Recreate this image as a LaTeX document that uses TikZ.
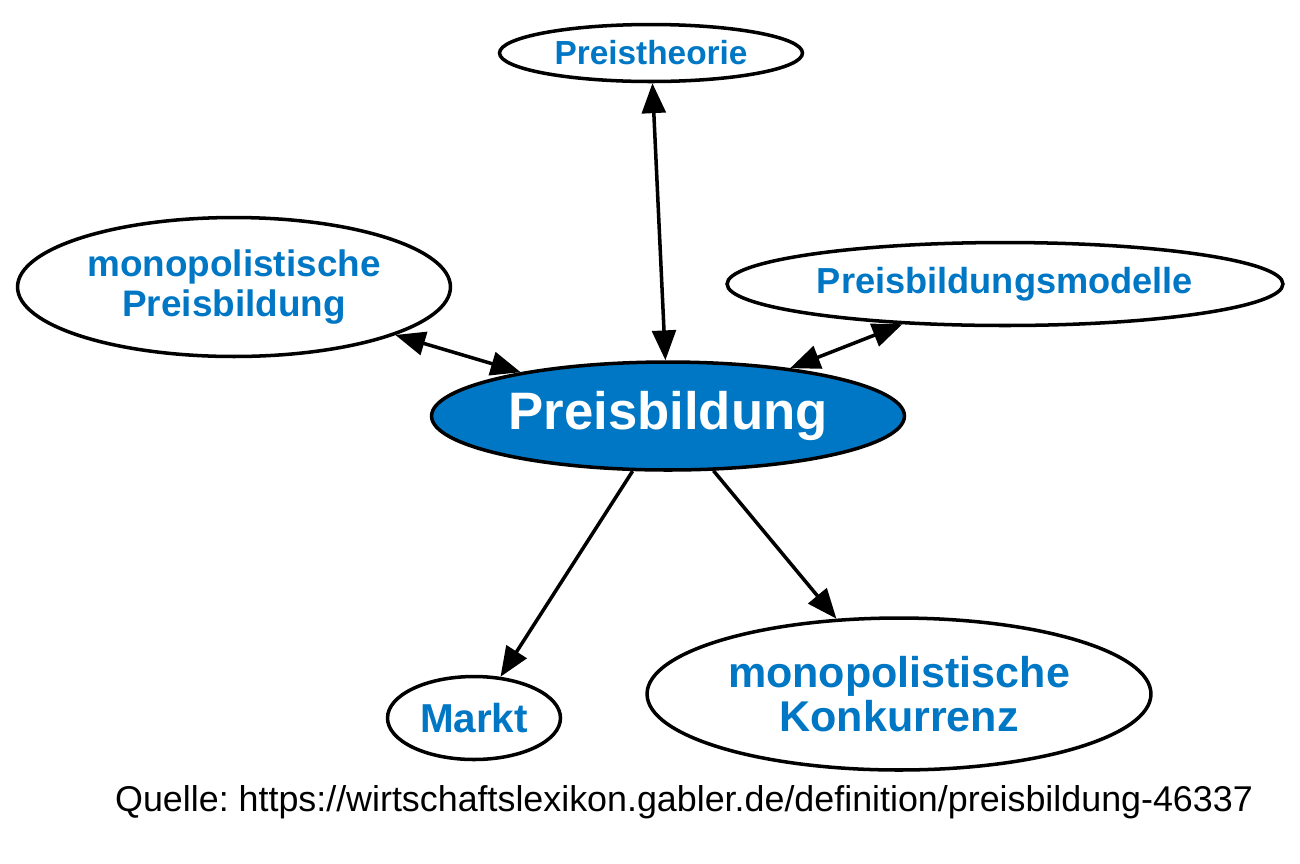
\documentclass[tikz,border=0pt]{standalone}
\usepackage{fontspec}
\setmainfont{Liberation Sans}
\usetikzlibrary{shapes.geometric,arrows.meta}
\definecolor{gblue}{HTML}{0077C4}
\frenchspacing
\tikzset{
  el/.style={ellipse, draw=black, line width=2pt, fill=white, inner sep=0pt, align=center, text=gblue, font=\bfseries},
  conn/.style={line width=2pt, black, arrows={-Triangle[length=17pt,width=13.5pt]}},
  bconn/.style={line width=2pt, black, arrows={Triangle[length=17pt,width=13.5pt]-Triangle[length=17pt,width=13.5pt]}}
}
\begin{document}
\begin{tikzpicture}[x=0.02cm,y=-0.02cm]
\useasboundingbox (0,0) rectangle (1300,863);
\node[el, minimum width=6.06cm, minimum height=1.14cm, font=\bfseries\fontsize{19}{21}\selectfont] (pt) at (651,53) {Preistheorie};
\node[el, minimum width=8.66cm, minimum height=2.78cm, font=\bfseries\fontsize{21}{22.7}\selectfont] (mp) at (234,287) {monopolistische\\Preisbildung};
\node[el, minimum width=11.12cm, minimum height=1.66cm, font=\bfseries\fontsize{20.6}{22}\selectfont] (pm) at (1005,284) {Preisbildungsmodelle};
\node[el, fill=gblue, text=white, minimum width=9.46cm, minimum height=2.16cm, font=\bfseries\fontsize{30}{32}\selectfont] (pb) at (668,416) {Preisbildung};
\node[el, minimum width=3.46cm, minimum height=1.66cm, font=\bfseries\fontsize{23}{25}\selectfont] (ma) at (474,718) {Markt};
\node[el, minimum width=10.08cm, minimum height=3.04cm, font=\bfseries\fontsize{24.5}{25}\selectfont] (mk) at (899,694) {monopolistische\\Konkurrenz};
\node[font=\fontsize{20.4}{22}\selectfont, inner sep=0pt] (src) at (684,802) {Quelle: https://wirtschaftslexikon.gabler.de/definition/preisbildung-46337};
\draw[bconn] (pt) -- (pb);
\draw[bconn] (mp) -- (pb);
\draw[bconn] (pm) -- (pb);
\draw[conn] (pb) -- (ma);
\draw[conn] (pb) -- (mk);
\end{tikzpicture}
\end{document}
